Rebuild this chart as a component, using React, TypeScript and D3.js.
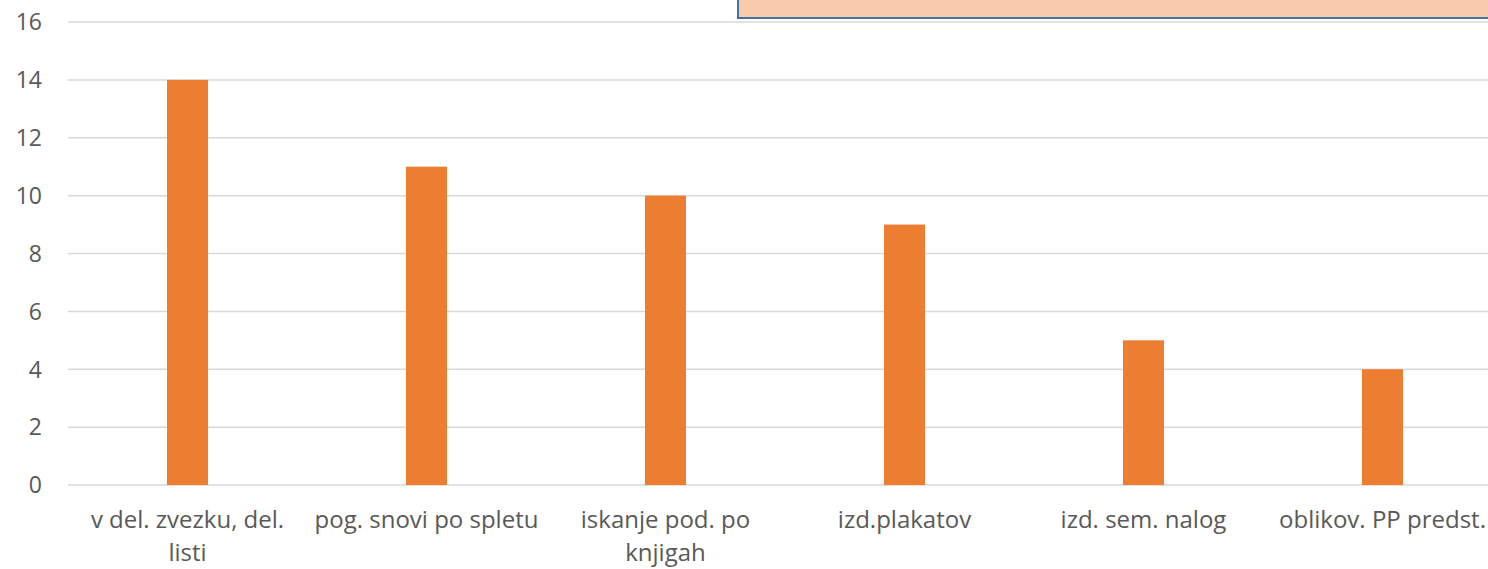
import React, { useEffect } from "react";
import * as d3 from "d3";

const categories = [
  "v del. zvezku, del.\nlisti",
  "pog. snovi po spletu",
  "iskanje pod. po\nknjigah",
  "izd.plakatov",
  "izd. sem. nalog",
  "oblikov. PP predst.",
];
const values = [14, 11, 10, 9, 5, 4];
const yTicks = [0, 2, 4, 6, 8, 10, 12, 14, 16];

const W = 1488;
const H = 569;
const FONT = "'Open Sans', sans-serif";

export default function App() {
  useEffect(() => {
    document.body.style.margin = "0";
  }, []);

  const x = d3.scaleBand<string>().domain(categories).range([68, 1502]).paddingInner(0).paddingOuter(0);
  const y = d3.scaleLinear().domain([0, 16]).range([485, 22]);
  const barW = 41;

  return (
    <svg width={W} height={H} style={{ display: "block", background: "#fff" }}>
      <rect x={0} y={0} width={W} height={H} fill="#fff" />
      {yTicks.map((t) => (
        <g key={t}>
          <line x1={68} x2={W} y1={y(t)} y2={y(t)} stroke="#d9d9d9" strokeWidth={1.5} />
          <text x={42} y={y(t)} dy="0.36em" textAnchor="end" fontFamily={FONT} fontSize={23} fill="#595959">
            {t}
          </text>
        </g>
      ))}
      {categories.map((c, i) => {
        const cx = (x(c) as number) + x.bandwidth() / 2;
        return (
          <g key={c}>
            <rect x={cx - barW / 2} y={y(values[i])} width={barW} height={y(0) - y(values[i])} fill="#ED7D31" />
            {c.split("\n").map((line, j) => (
              <text
                key={j}
                x={cx}
                y={528 + j * 33}
                textAnchor="middle"
                fontFamily={FONT}
                fontSize={24}
                fill="#595959"
              >
                {line}
              </text>
            ))}
          </g>
        );
      })}
      <rect x={738} y={-10} width={W} height={28} fill="#F8CBAD" stroke="#41719C" strokeWidth={2} />
    </svg>
  );
}
